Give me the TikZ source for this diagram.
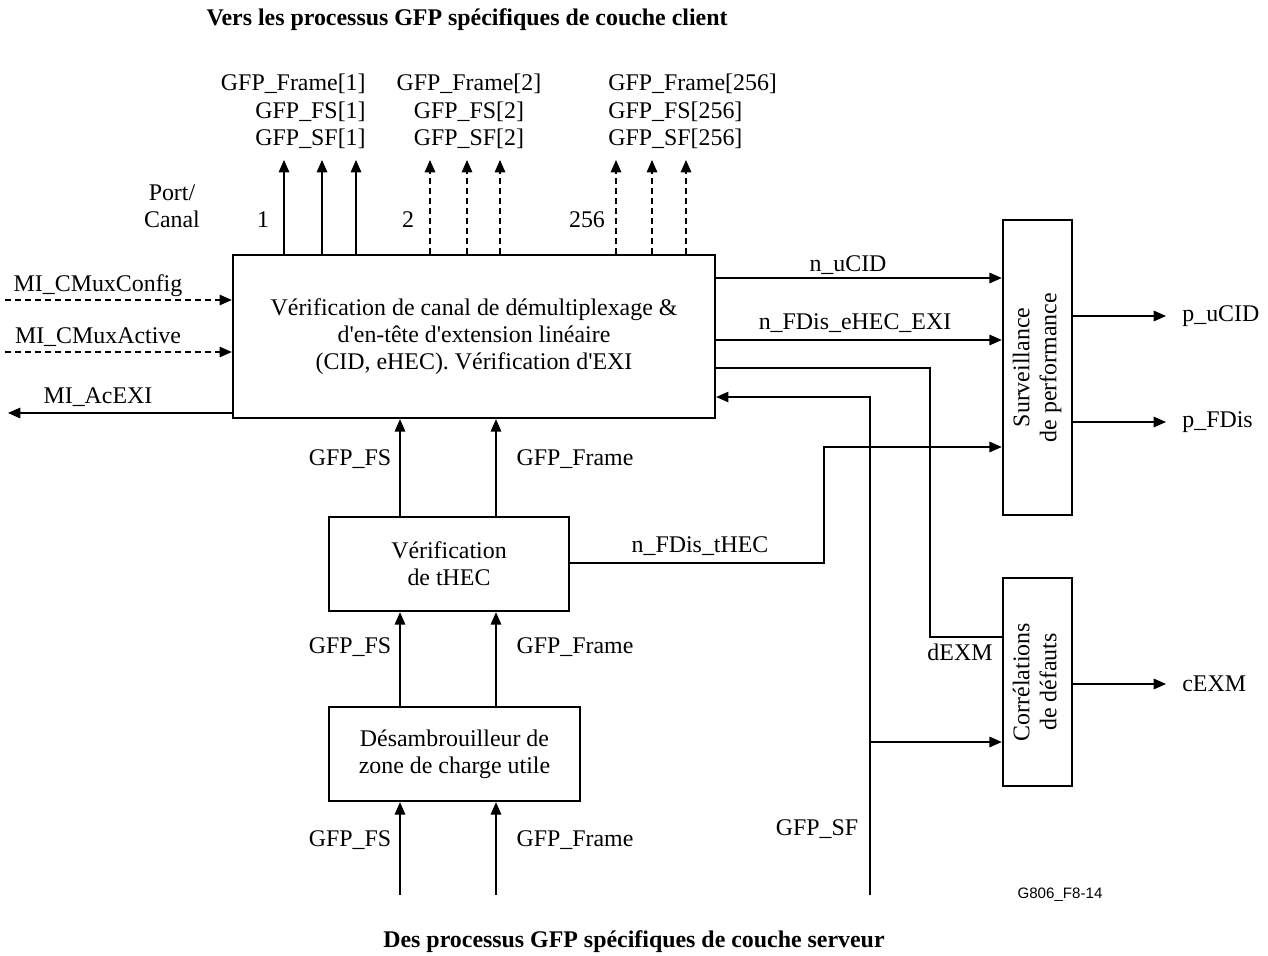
\documentclass[tikz,border=0pt]{standalone}
\usepackage{fontspec}
\setmainfont{Liberation Serif}
\newfontfamily\labsans{Liberation Sans}
\usetikzlibrary{arrows.meta}
\begin{document}
\begin{tikzpicture}[x=0.02cm,y=-0.02cm,
  txt/.style={font=\fontsize{13.6}{15.6}\selectfont, inner sep=0pt, align=center},
  blk/.style={draw, line width=1.4pt, inner sep=2pt, align=center, font=\fontsize{13.6}{15.4}\selectfont},
  ln/.style={line width=0.7pt},
  arr/.style={line width=0.7pt, -{Triangle[length=7pt,width=6pt]}},
  darr/.style={arr, dash pattern=on 3.5pt off 2.2pt},
  ttl/.style={font=\fontsize{13.6}{16}\selectfont\bfseries, inner sep=0pt}]
\useasboundingbox (0,0) rectangle (1268,956);

% blocks
\node[blk, minimum width=9.64cm, minimum height=3.26cm] (main) at (474,336.5)
  {V\'erification de canal de d\'emultiplexage \&\\d\textquotesingle en-t\^ete d\textquotesingle extension lin\'eaire\\(CID, eHEC). V\'erification d\textquotesingle EXI};
\node[blk, minimum width=1.38cm, minimum height=5.9cm] (perf) at (1037.5,367.5)
  {\rotatebox{90}{\begin{tabular}{@{}c@{}}Surveillance\\de performance\end{tabular}}};
\node[blk, minimum width=1.38cm, minimum height=4.16cm] (corr) at (1037.5,682)
  {\rotatebox{90}{\begin{tabular}{@{}c@{}}Corr\'elations\\de d\'efauts\end{tabular}}};
\node[blk, minimum width=4.8cm, minimum height=1.88cm] (thec) at (449,564)
  {V\'erification\\de tHEC};
\node[blk, minimum width=5.02cm, minimum height=1.88cm] (desc) at (454.5,754)
  {D\'esambrouilleur de\\zone de charge utile};

% titles
\node[ttl] (ttop) at (467,20) {Vers les processus GFP sp\'ecifiques de couche client};
\node[ttl] (tbot) at (634,942) {Des processus GFP sp\'ecifiques de couche serveur};
\node[font=\labsans\fontsize{8.6}{10}\selectfont, inner sep=0pt] (ref) at (1060,895) {G806\_F8-14};

% top outputs
\foreach \n/\x in {a1/284,a2/322,a3/356,b1/430,b2/467,b3/500,c1/616,c2/652,c3/686}
  \coordinate (\n) at (\x,160);
\foreach \n in {a1,a2,a3} \draw[arr] (main.north -| \n) -- (\n);
\foreach \n in {b1,b2,b3,c1,c2,c3} \draw[darr] (main.north -| \n) -- (\n);

\node[txt, align=right, anchor=north east] (g1) at (366,74) {GFP\_Frame[1]\\GFP\_FS[1]\\GFP\_SF[1]};
\node[txt, align=center, anchor=north] (g2) at (469,74) {GFP\_Frame[2]\\GFP\_FS[2]\\GFP\_SF[2]};
\node[txt, align=left, anchor=north west] (g3) at (608,74) {GFP\_Frame[256]\\GFP\_FS[256]\\GFP\_SF[256]};
\node[txt] (pc) at (172,206) {Port/\\Canal};
\node[txt] (p1) at (263,220) {1};
\node[txt] (p2) at (408,220) {2};
\node[txt] (p3) at (587,220) {256};

% left side
\coordinate (lcfg) at (5,300);
\coordinate (lact) at (5,352);
\coordinate (lexi) at (8,413);
\draw[darr] (lcfg) -- (lcfg -| main.west);
\draw[darr] (lact) -- (lact -| main.west);
\draw[arr] (lexi -| main.west) -- (lexi);
\node[txt] (lcfgt) at (98,286) {MI\_CMuxConfig};
\node[txt] (lactt) at (98,337) {MI\_CMuxActive};
\node[txt] (lexit) at (98,397) {MI\_AcEXI};

% right of main
\coordinate (y278) at (0,278);
\coordinate (y340) at (0,340);
\coordinate (y368) at (0,368);
\coordinate (y397) at (0,397);
\coordinate (y447) at (0,447);
\coordinate (y637) at (0,637);
\coordinate (y742) at (0,742);
\draw[arr] (main.east |- y278) -- (perf.west |- y278);
\draw[arr] (main.east |- y340) -- (perf.west |- y340);
\node[txt] (nu) at (848,265) {n\_uCID};
\node[txt] (nf) at (855,323) {n\_FDis\_eHEC\_EXI};

\coordinate (dx) at (930,368);
\coordinate (dy) at (930,637);
\draw[ln] (main.east |- y368) -- (dx) -- (dy) -- (corr.west |- y637);
\node[txt] (dexm) at (960,652) {dEXM};

\coordinate (sfb) at (870,895);
\coordinate (sft) at (870,397);
\coordinate (sfm) at (870,742);
\draw[arr] (sfb) -- (sft) -- (main.east |- y397);
\draw[arr] (sfm) -- (corr.west |- y742);
\node[txt] (sftx) at (817,829) {GFP\_SF};

\coordinate (tx1) at (824,563);
\coordinate (tx2) at (824,447);
\draw[arr] (thec.east |- tx1) -- (tx1) -- (tx2) -- (perf.west |- tx2);
\node[txt] (nt) at (700,546) {n\_FDis\_tHEC};

% outputs right
\coordinate (ou) at (1166,316);
\coordinate (of) at (1166,422);
\coordinate (oc) at (1166,684);
\draw[arr] (perf.east |- ou) -- (ou);
\draw[arr] (perf.east |- of) -- (of);
\draw[arr] (corr.east |- oc) -- (oc);
\node[txt, anchor=west] (put) at (1182,316) {p\_uCID};
\node[txt, anchor=west] (pft) at (1182,422) {p\_FDis};
\node[txt, anchor=west] (cet) at (1182,684) {cEXM};

% vertical chain
\coordinate (vfs) at (400,895);
\coordinate (vfr) at (496,895);
\draw[arr] (thec.north -| vfs) -- (main.south -| vfs);
\draw[arr] (thec.north -| vfr) -- (main.south -| vfr);
\draw[arr] (desc.north -| vfs) -- (thec.south -| vfs);
\draw[arr] (desc.north -| vfr) -- (thec.south -| vfr);
\draw[arr] (vfs) -- (desc.south -| vfs);
\draw[arr] (vfr) -- (desc.south -| vfr);
\foreach \y/\n in {459/u,647/m,840/b} {
  \node[txt] (fs\n) at (350,\y) {GFP\_FS};
  \node[txt] (fr\n) at (575,\y) {GFP\_Frame};
}
\end{tikzpicture}
\end{document}
